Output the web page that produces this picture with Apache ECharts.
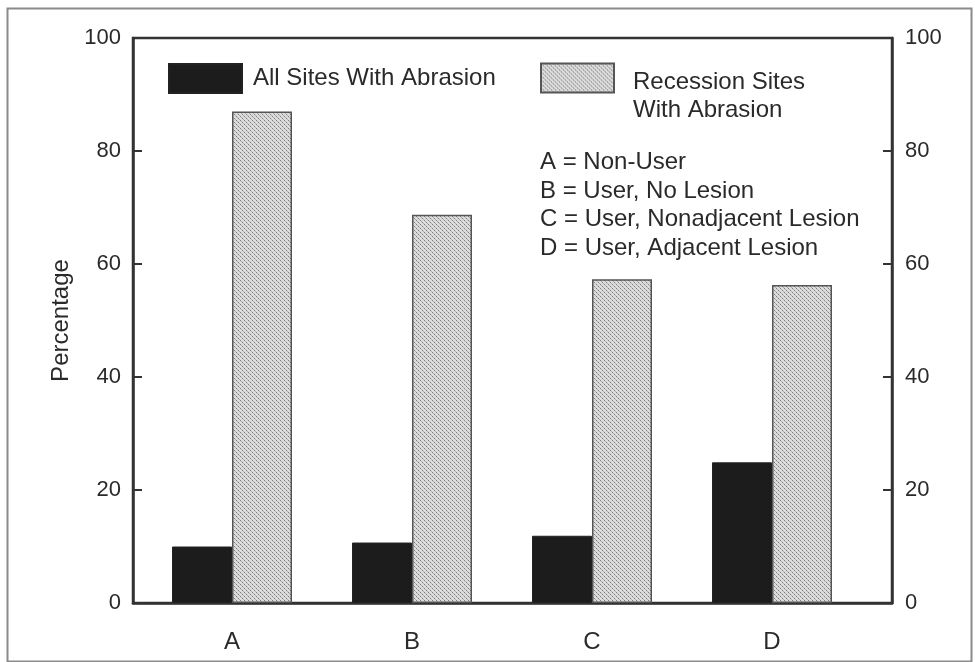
<!DOCTYPE html>
<html>
<head>
<meta charset="utf-8">
<script src="https://cdn.jsdelivr.net/npm/echarts@6/dist/echarts.min.js"></script>
<style>
html,body{margin:0;padding:0;background:#fff;}
#chart{width:975px;height:662px;}
</style>
</head>
<body>
<div id="chart"></div>
<script>
// ---- data ----
var categories = ['A', 'B', 'C', 'D'];
var allSitesName = 'All Sites With Abrasion';
var recessionName = 'Recession Sites\nWith Abrasion';
var allSites = [10.0, 10.7, 11.9, 24.9];
var recessionSites = [87.0, 68.7, 57.3, 56.3];
var yTicks = [0, 20, 40, 60, 80, 100];
var yAxisName = 'Percentage';
var keyLines = [
  'A = Non-User',
  'B = User, No Lesion',
  'C = User, Nonadjacent Lesion',
  'D = User, Adjacent Lesion'
];

// ---- hatch pattern ----
function makePattern() {
  var c = document.createElement('canvas');
  c.width = 4; c.height = 4;
  var ctx = c.getContext('2d');
  ctx.fillStyle = '#dcdcdc';
  ctx.fillRect(0, 0, 4, 4);
  ctx.fillStyle = '#7e7e7e';
  ctx.fillRect(0, 0, 1, 1);
  ctx.fillRect(2, 2, 1, 1);
  ctx.fillStyle = '#adadad';
  ctx.fillRect(1, 1, 1, 1);
  ctx.fillRect(3, 3, 1, 1);
  return c;
}
var hatch = { image: makePattern(), repeat: 'repeat' };

var FONT = 'Liberation Sans, Arial, Helvetica, sans-serif';
var TXT = '#2a2a2a';
var AX = '#333';

var chart = echarts.init(document.getElementById('chart'), null, { renderer: 'canvas' });

var option = {
  animation: false,
  backgroundColor: '#fff',
  textStyle: { fontFamily: FONT, color: TXT },
  grid: [
    { left: 133, right: 83, top: 38, bottom: 59, show: true, borderColor: AX, borderWidth: 2.5, backgroundColor: 'transparent' },
    { left: 142, right: 113, top: 38, bottom: 59 }
  ],
  legend: [
    {
      data: [allSitesName],
      left: 168, top: 63,
      padding: 0,
      icon: 'rect',
      itemWidth: 73, itemHeight: 29,
      selectedMode: false,
      textStyle: { fontFamily: FONT, fontSize: 24, color: TXT, padding: [0, 0, 0, 6] }
    },
    {
      data: [recessionName],
      left: 540, top: 45,
      padding: 0,
      icon: 'rect',
      itemWidth: 73, itemHeight: 29,
      selectedMode: false,
      formatter: function (name) {
        var parts = name.split('\n');
        return '{gap| }\n{t|' + parts[0] + '}\n{t|' + parts[1] + '}';
      },
      textStyle: {
        fontFamily: FONT, fontSize: 24, color: TXT, padding: [0, 0, 0, 14],
        rich: {
          gap: { fontSize: 10, lineHeight: 37, fontFamily: FONT },
          t: { fontSize: 24, lineHeight: 28, fontFamily: FONT, color: TXT }
        }
      }
    }
  ],
  xAxis: [
    {
      type: 'category', gridIndex: 0, data: categories,
      axisLine: { show: true, lineStyle: { color: AX, width: 2.5 } },
      axisTick: { show: false }, axisLabel: { show: false }, splitLine: { show: false }
    },
    {
      type: 'category', gridIndex: 1, data: categories,
      axisLine: { show: false }, axisTick: { show: false },
      axisLabel: { show: true, margin: 27, fontFamily: FONT, fontSize: 24, color: TXT }
    }
  ],
  yAxis: [
    {
      type: 'value', gridIndex: 0, position: 'left', min: yTicks[0], max: yTicks[yTicks.length - 1], interval: 20,
      name: yAxisName, nameLocation: 'middle', nameGap: 57,
      nameTextStyle: { fontFamily: FONT, fontSize: 24, color: TXT },
      axisLine: { show: true, lineStyle: { color: AX, width: 2.5 } },
      axisTick: { show: true, inside: true, length: 9, lineStyle: { color: AX, width: 2 } },
      axisLabel: { margin: 12, fontFamily: FONT, fontSize: 22, color: TXT },
      splitLine: { show: false }
    },
    {
      type: 'value', gridIndex: 0, position: 'right', min: yTicks[0], max: yTicks[yTicks.length - 1], interval: 20,
      axisLine: { show: true, lineStyle: { color: AX, width: 2.5 } },
      axisTick: { show: true, inside: true, length: 9, lineStyle: { color: AX, width: 2 } },
      axisLabel: { margin: 13, fontFamily: FONT, fontSize: 22, color: TXT },
      splitLine: { show: false }
    },
    {
      type: 'value', gridIndex: 1, min: yTicks[0], max: yTicks[yTicks.length - 1], show: false
    }
  ],
  series: [
    {
      name: allSitesName, type: 'bar', xAxisIndex: 1, yAxisIndex: 2,
      data: allSites, barWidth: 60, barGap: '0%',
      itemStyle: { color: '#1c1c1c', borderColor: '#222', borderWidth: 1 }
    },
    {
      name: recessionName, type: 'bar', xAxisIndex: 1, yAxisIndex: 2,
      data: recessionSites, barWidth: 60, barGap: '0%',
      itemStyle: { color: hatch, borderColor: '#555', borderWidth: 1.5 }
    }
  ],
  graphic: [
    {
      type: 'rect', left: 5, top: 6, z: -1,
      shape: { width: 964, height: 653 },
      style: { fill: 'none', stroke: '#8a8a8a', lineWidth: 2 }
    },
    {
      type: 'text', left: 540, top: 148,
      style: {
        text: keyLines.join('\n'),
        font: '24px ' + FONT,
        fill: TXT,
        lineHeight: 28.7
      }
    }
  ]
};

chart.setOption(option);
</script>
</body>
</html>
